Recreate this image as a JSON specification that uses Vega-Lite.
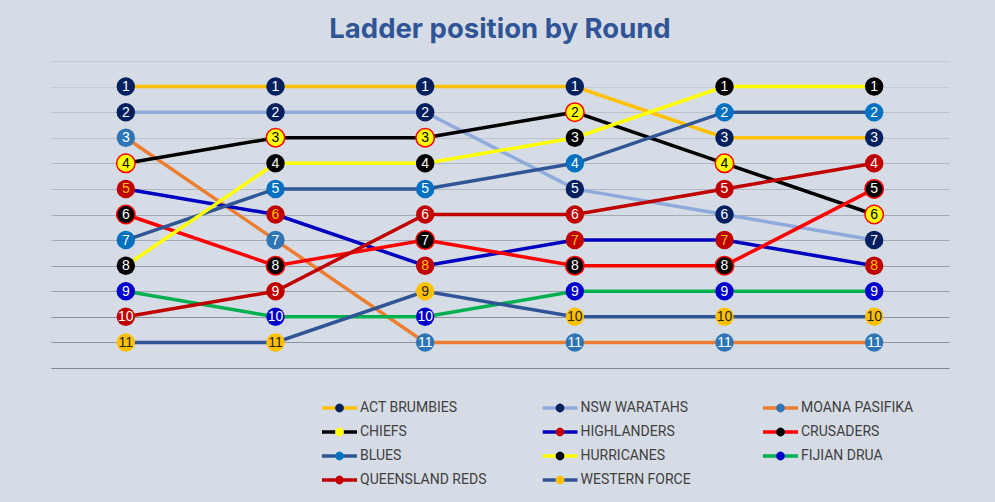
{
  "$schema": "https://vega.github.io/schema/vega-lite/v6.json",
  "width": 898,
  "height": 307,
  "autosize": {"type": "none"},
  "padding": {"left": 51, "top": 61, "right": 46, "bottom": 134},
  "background": "#d6dce5",
  "title": {
    "text": "Ladder position by Round",
    "font": "Inter",
    "fontSize": 27.5,
    "fontWeight": "bold",
    "color": "#2f5597",
    "anchor": "middle",
    "offset": 18
  },
  "config": {"view": {"stroke": null}},
  "data": {
    "values": [
      {"team": "ACT BRUMBIES", "round": 1, "pos": 1},
      {"team": "ACT BRUMBIES", "round": 2, "pos": 1},
      {"team": "ACT BRUMBIES", "round": 3, "pos": 1},
      {"team": "ACT BRUMBIES", "round": 4, "pos": 1},
      {"team": "ACT BRUMBIES", "round": 5, "pos": 3},
      {"team": "ACT BRUMBIES", "round": 6, "pos": 3},
      {"team": "NSW WARATAHS", "round": 1, "pos": 2},
      {"team": "NSW WARATAHS", "round": 2, "pos": 2},
      {"team": "NSW WARATAHS", "round": 3, "pos": 2},
      {"team": "NSW WARATAHS", "round": 4, "pos": 5},
      {"team": "NSW WARATAHS", "round": 5, "pos": 6},
      {"team": "NSW WARATAHS", "round": 6, "pos": 7},
      {"team": "MOANA PASIFIKA", "round": 1, "pos": 3},
      {"team": "MOANA PASIFIKA", "round": 2, "pos": 7},
      {"team": "MOANA PASIFIKA", "round": 3, "pos": 11},
      {"team": "MOANA PASIFIKA", "round": 4, "pos": 11},
      {"team": "MOANA PASIFIKA", "round": 5, "pos": 11},
      {"team": "MOANA PASIFIKA", "round": 6, "pos": 11},
      {"team": "CHIEFS", "round": 1, "pos": 4},
      {"team": "CHIEFS", "round": 2, "pos": 3},
      {"team": "CHIEFS", "round": 3, "pos": 3},
      {"team": "CHIEFS", "round": 4, "pos": 2},
      {"team": "CHIEFS", "round": 5, "pos": 4},
      {"team": "CHIEFS", "round": 6, "pos": 6},
      {"team": "HIGHLANDERS", "round": 1, "pos": 5},
      {"team": "HIGHLANDERS", "round": 2, "pos": 6},
      {"team": "HIGHLANDERS", "round": 3, "pos": 8},
      {"team": "HIGHLANDERS", "round": 4, "pos": 7},
      {"team": "HIGHLANDERS", "round": 5, "pos": 7},
      {"team": "HIGHLANDERS", "round": 6, "pos": 8},
      {"team": "CRUSADERS", "round": 1, "pos": 6},
      {"team": "CRUSADERS", "round": 2, "pos": 8},
      {"team": "CRUSADERS", "round": 3, "pos": 7},
      {"team": "CRUSADERS", "round": 4, "pos": 8},
      {"team": "CRUSADERS", "round": 5, "pos": 8},
      {"team": "CRUSADERS", "round": 6, "pos": 5},
      {"team": "BLUES", "round": 1, "pos": 7},
      {"team": "BLUES", "round": 2, "pos": 5},
      {"team": "BLUES", "round": 3, "pos": 5},
      {"team": "BLUES", "round": 4, "pos": 4},
      {"team": "BLUES", "round": 5, "pos": 2},
      {"team": "BLUES", "round": 6, "pos": 2},
      {"team": "HURRICANES", "round": 1, "pos": 8},
      {"team": "HURRICANES", "round": 2, "pos": 4},
      {"team": "HURRICANES", "round": 3, "pos": 4},
      {"team": "HURRICANES", "round": 4, "pos": 3},
      {"team": "HURRICANES", "round": 5, "pos": 1},
      {"team": "HURRICANES", "round": 6, "pos": 1},
      {"team": "FIJIAN DRUA", "round": 1, "pos": 9},
      {"team": "FIJIAN DRUA", "round": 2, "pos": 10},
      {"team": "FIJIAN DRUA", "round": 3, "pos": 10},
      {"team": "FIJIAN DRUA", "round": 4, "pos": 9},
      {"team": "FIJIAN DRUA", "round": 5, "pos": 9},
      {"team": "FIJIAN DRUA", "round": 6, "pos": 9},
      {"team": "QUEENSLAND REDS", "round": 1, "pos": 10},
      {"team": "QUEENSLAND REDS", "round": 2, "pos": 9},
      {"team": "QUEENSLAND REDS", "round": 3, "pos": 6},
      {"team": "QUEENSLAND REDS", "round": 4, "pos": 6},
      {"team": "QUEENSLAND REDS", "round": 5, "pos": 5},
      {"team": "QUEENSLAND REDS", "round": 6, "pos": 4},
      {"team": "WESTERN FORCE", "round": 1, "pos": 11},
      {"team": "WESTERN FORCE", "round": 2, "pos": 11},
      {"team": "WESTERN FORCE", "round": 3, "pos": 9},
      {"team": "WESTERN FORCE", "round": 4, "pos": 10},
      {"team": "WESTERN FORCE", "round": 5, "pos": 10},
      {"team": "WESTERN FORCE", "round": 6, "pos": 10}
    ]
  },
  "encoding": {
    "x": {"field": "round", "type": "ordinal", "axis": null, "scale": {"padding": 0.5}},
    "y": {
      "field": "pos",
      "type": "quantitative",
      "scale": {"domain": [0, 12], "reverse": true, "nice": false, "zero": false},
      "axis": {
        "title": null,
        "labels": false,
        "ticks": false,
        "domain": false,
        "grid": true,
        "values": [0, 1, 2, 3, 4, 5, 6, 7, 8, 9, 10, 11, 12],
        "gridWidth": 1,
        "gridColor": {
          "condition": [
            {"test": "datum.value <= 1", "value": "#c5cbd4"},
            {"test": "datum.value <= 3", "value": "#bcc2cb"},
            {"test": "datum.value <= 5", "value": "#b1b8c1"},
            {"test": "datum.value <= 7", "value": "#a5acb5"},
            {"test": "datum.value <= 9", "value": "#98a0a9"},
            {"test": "datum.value <= 11", "value": "#8c939c"}
          ],
          "value": "#80878f"
        }
      }
    }
  },
  "layer": [
    {
      "mark": {"type": "line", "strokeWidth": 3.5},
      "encoding": {
        "stroke": {
          "field": "team",
          "type": "nominal",
          "scale": {
            "domain": ["ACT BRUMBIES", "NSW WARATAHS", "MOANA PASIFIKA", "CHIEFS", "HIGHLANDERS", "CRUSADERS", "BLUES", "HURRICANES", "FIJIAN DRUA", "QUEENSLAND REDS", "WESTERN FORCE"],
            "range": ["#ffc000", "#8faadc", "#ed7d31", "#000000", "#0000c0", "#ff0000", "#2f5597", "#ffff00", "#00b050", "#c00000", "#2f5597"]
          },
          "legend": {
            "orient": "none",
            "direction": "horizontal",
            "legendX": 271,
            "legendY": 339,
            "padding": 0,
            "columns": 3,
            "gridAlign": "all",
            "columnPadding": 55.5,
            "rowPadding": 8,
            "clipHeight": 16,
            "title": null,
            "symbolType": "M-1.4,0L1.34,0M2.86,0L5.6,0",
            "symbolSize": 100,
            "symbolStrokeWidth": 3.5,
            "symbolOpacity": 1,
            "labelFont": "Roboto",
            "labelFontSize": 14,
            "labelColor": "#404040",
            "labelOffset": 24,
            "encode": {
              "symbols": {
                "update": {
                  "size": {"value": 100},
                  "strokeWidth": {"value": 3.5}
                }
              }
            }
          }
        }
      }
    },
    {
      "mark": {"type": "point", "filled": true, "size": 340, "opacity": 1, "strokeWidth": 1.5},
      "encoding": {
        "fill": {
          "field": "team",
          "type": "nominal",
          "sort": ["ACT BRUMBIES", "NSW WARATAHS", "MOANA PASIFIKA", "CHIEFS", "HIGHLANDERS", "CRUSADERS", "BLUES", "HURRICANES", "FIJIAN DRUA", "QUEENSLAND REDS", "WESTERN FORCE"],
          "scale": {
            "range": ["#002060", "#002060", "#2e75b6", "#ffff00", "#c00000", "#000000", "#0070c0", "#000000", "#0000cc", "#c00000", "#ffc000"]
          },
          "legend": {
            "orient": "none",
            "direction": "horizontal",
            "legendX": 271,
            "legendY": 339,
            "padding": 0,
            "columns": 3,
            "gridAlign": "all",
            "columnPadding": 55.5,
            "rowPadding": 8,
            "clipHeight": 16,
            "title": null,
            "symbolType": "M-1.4,0L1.34,0M2.86,0L5.6,0M2.98,0L2.913,0.337L2.722,0.622L2.437,0.813L2.1,0.88L1.763,0.813L1.478,0.622L1.287,0.337L1.22,0L1.287,-0.337L1.478,-0.622L1.763,-0.813L2.1,-0.88L2.437,-0.813L2.722,-0.622L2.913,-0.337Z",
            "symbolSize": 100,
            "symbolStrokeWidth": 3.5,
            "symbolStrokeColor": "transparent",
            "symbolOpacity": 1,
            "labelFont": "Roboto",
            "labelFontSize": 14,
            "labelColor": "transparent",
            "labelOffset": 24,
            "encode": {
              "symbols": {
                "update": {
                  "shape": {"value": "M-1.4,0L1.34,0M2.86,0L5.6,0M2.98,0L2.913,0.337L2.722,0.622L2.437,0.813L2.1,0.88L1.763,0.813L1.478,0.622L1.287,0.337L1.22,0L1.287,-0.337L1.478,-0.622L1.763,-0.813L2.1,-0.88L2.437,-0.813L2.722,-0.622L2.913,-0.337Z"},
                  "size": {"value": 100},
                  "strokeWidth": {"value": 3.5},
                  "stroke": {"value": "transparent"}
                }
              }
            }
          }
        },
        "stroke": {
          "condition": [
            {"test": "datum.team === 'CHIEFS'", "value": "#ff0000"},
            {"test": "datum.team === 'CRUSADERS'", "value": "#ff0000"}
          ],
          "value": "transparent"
        }
      }
    },
    {
      "mark": {"type": "text", "font": "Liberation Sans", "fontSize": 14, "baseline": "middle", "align": "center", "dy": 0.5},
      "encoding": {
        "text": {"field": "pos", "type": "quantitative"},
        "color": {
          "condition": [
            {"test": "datum.team === 'CHIEFS'", "value": "#000000"},
            {"test": "datum.team === 'WESTERN FORCE'", "value": "#262626"},
            {"test": "datum.team === 'HIGHLANDERS'", "value": "#ffc000"}
          ],
          "value": "#ffffff"
        }
      }
    }
  ]
}
